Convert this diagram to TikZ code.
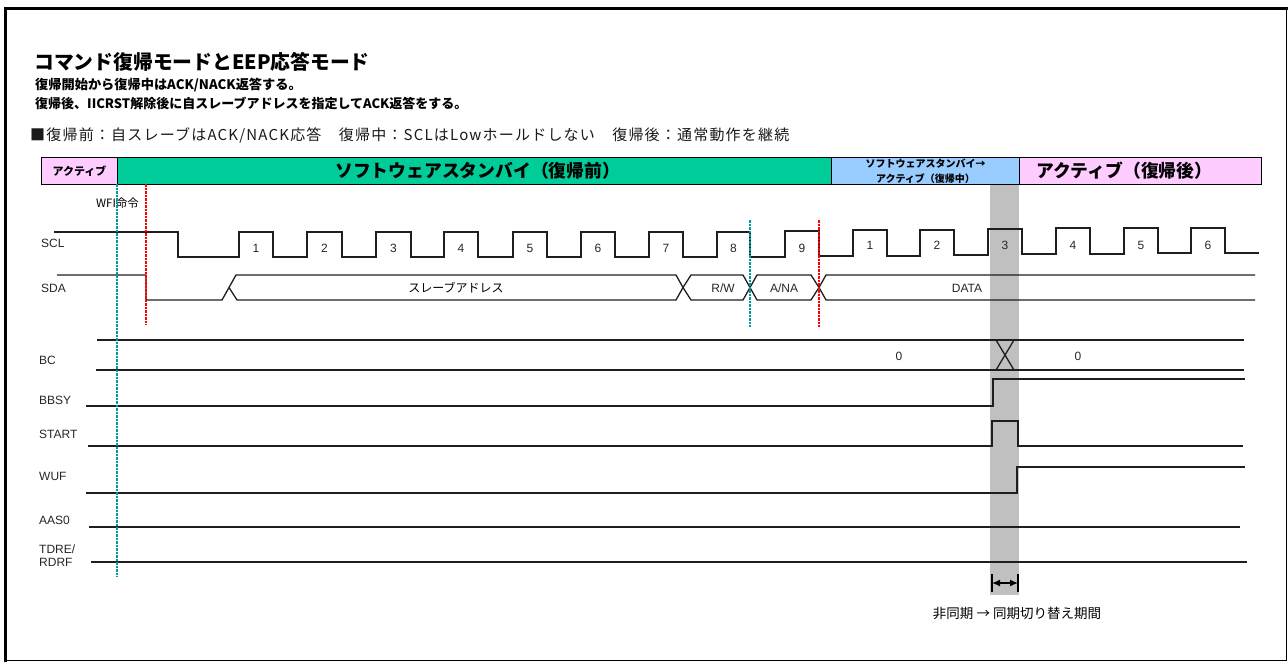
\documentclass[tikz,border=0pt]{standalone}
\usepackage{fontspec}
\setmainfont{Noto Sans CJK JP}
\newfontfamily\lat{Liberation Sans}
\usetikzlibrary{arrows.meta}

\definecolor{hdrgreen}{RGB}{0,204,153}
\definecolor{hdrblue}{RGB}{153,204,255}
\definecolor{hdrpink}{RGB}{255,204,255}
\definecolor{bandgray}{RGB}{192,192,192}
\definecolor{tealdot}{RGB}{0,155,160}
\definecolor{reddot}{RGB}{255,0,0}
\definecolor{wave}{RGB}{30,30,30}

\tikzset{
  wv/.style={draw=wave, line width=1.3pt, line join=miter},
  lbl/.style={font=\fontsize{12}{13}\selectfont\lat, anchor=west, inner sep=0pt, align=left, text=black!85},
  num/.style={font=\fontsize{12}{13}\selectfont\lat, inner sep=0pt, text=black!85},
  jtxt/.style={inner sep=0pt, anchor=west},
  hbox/.style={draw=black, line width=1pt, inner sep=0pt, anchor=north west},
  tdot/.style={draw=tealdot, line width=2.4pt, dash pattern=on 2.5pt off 1pt},
  rdot/.style={draw=reddot, line width=2.4pt, dash pattern=on 2.5pt off 1pt},
}

\begin{document}
\begin{tikzpicture}[x=1pt,y=-1pt]
\useasboundingbox (0,0) rectangle (1288,662);
% frame
\draw[line width=1pt] (1286.5,8.5) -- (1286.5,660.5) -- (5.5,660.5);
\draw[line width=3.5pt] (5.5,662) -- (5.5,8.5) -- (1288,8.5);

% headings
\node[jtxt, font=\fontsize{19.8}{21}\selectfont\bfseries] (title) at (34,62) {コマンド復帰モードとEEP応答モード};
\node[jtxt, font=\fontsize{13.2}{14}\selectfont\bfseries] (sub1) at (35,85) {復帰開始から復帰中はACK/NACK返答する。};
\node[jtxt, font=\fontsize{13}{14}\selectfont\bfseries] (sub2) at (35,103) {復帰後、IICRST解除後に自スレーブアドレスを指定してACK返答をする。};
\node[jtxt, font=\fontsize{15}{16}\selectfont, text=black!90] (legend) at (30,135) {\addfontfeature{LetterSpace=8}■復帰前：自スレーブはACK/NACK応答　復帰中：SCLはLowホールドしない　復帰後：通常動作を継続};

% gray band
\fill[bandgray] (990,184) rectangle (1019,595);

% header bar
\node[hbox, fill=hdrpink, minimum width=76pt, minimum height=27pt] (act1) at (41,157) {};
\node[hbox, fill=hdrgreen, minimum width=714pt, minimum height=27pt] (stby) at (117,157) {};
\node[hbox, fill=hdrblue, minimum width=188pt, minimum height=27pt] (trans) at (831,157) {};
\node[hbox, fill=hdrpink, minimum width=242pt, minimum height=27pt] (act2) at (1019,157) {};
\node[inner sep=0pt, font=\fontsize{11}{12}\selectfont\bfseries] (act1t) at (act1.center) {アクティブ};
\node[jtxt, font=\fontsize{17.8}{19}\selectfont\bfseries] (stbyt) at (335,170.5) {ソフトウェアスタンバイ（復帰前）};
\node[inner sep=0pt, align=center, font=\fontsize{10}{14.5}\selectfont\bfseries] (transt) at (trans.center) {ソフトウェアスタンバイ→\\アクティブ（復帰中）};
\node[jtxt, font=\fontsize{17.8}{19}\selectfont\bfseries] (act2t) at (1036,170.5) {アクティブ（復帰後）};

% WFI
\node[inner sep=0pt, font=\fontsize{11.5}{12}\selectfont] (wfi) at (117.5,203) {WFI命令};

% signal labels
\node[lbl] (lscl) at (41,243) {SCL};
\node[lbl] (lsda) at (41,288) {SDA};
\node[lbl] (lbc) at (39,360) {BC};
\node[lbl] (lbbsy) at (39,400) {BBSY};
\node[lbl] (lstart) at (39,434) {START};
\node[lbl] (lwuf) at (39,476) {WUF};
\node[lbl] (laas) at (39,520) {AAS0};
\node[lbl] (ltdre) at (39,555.5) {TDRE/\\RDRF};

% SCL
\draw[wv] (54,232) -- (178,232) -- (178,257)
  -- (239,257) -- (239,232) -- (273,232) -- (273,257)
  -- (307,257) -- (307,232) -- (342,232) -- (342,257)
  -- (376,257) -- (376,232) -- (411,232) -- (411,257)
  -- (444,257) -- (444,232) -- (478,232) -- (478,257)
  -- (513,257) -- (513,232) -- (547,232) -- (547,257)
  -- (581,257) -- (581,232) -- (615,232) -- (615,257)
  -- (649,257) -- (649,232) -- (683,232) -- (683,257)
  -- (717,257) -- (717,232) -- (750,232) -- (750,257)
  -- (785,257) -- (785,231) -- (819,231) -- (819,256)
  -- (853,256) -- (853,230) -- (887,230) -- (887,256)
  -- (920,256) -- (920,230) -- (954,230) -- (954,255)
  -- (988,255) -- (988,229) -- (1022,229) -- (1022,254)
  -- (1056,254) -- (1056,228) -- (1090,228) -- (1090,254)
  -- (1124,254) -- (1124,228) -- (1158,228) -- (1158,253)
  -- (1191,253) -- (1191,228) -- (1225,228) -- (1225,253)
  -- (1259,253);
\foreach \x/\n in {256/1,324.5/2,393.5/3,461/4,530/5,598/6,666/7,733.5/8,802/9}
  \node[num] at (\x,248) {\n};
\foreach \x/\n in {870/1,937/2,1005/3,1073/4,1141/5,1208/6}
  \node[num] at (\x,245) {\n};

% SDA
\draw[wv] (57,275) -- (146,275) -- (146,300) -- (222,300) -- (236,275)
  -- (676,275) -- (683,287.5) -- (691,275) -- (743,275) -- (750,287.5) -- (757,275)
  -- (811,275) -- (819,287.5) -- (826,275) -- (1255,275);
\draw[wv] (229,287.5) -- (237,300) -- (676,300) -- (683,287.5) -- (691,300)
  -- (743,300) -- (750,287.5) -- (757,300) -- (811,300) -- (819,287.5) -- (826,300) -- (1255,300);
\node[inner sep=0pt, font=\fontsize{12}{13}\selectfont] (sadr) at (456,288) {スレーブアドレス};
\node[num] (rw) at (723,288) {R/W};
\node[num] (ana) at (784,288) {A/NA};
\node[num] (data) at (967,288) {DATA};

% BC
\draw[wv] (97,340) -- (1244,340);
\draw[wv] (96,370) -- (1244,370);
\draw[wv] (996,340) -- (1014,370);
\draw[wv] (1014,340) -- (996,370);
\node[num] (bc0a) at (899,356) {0};
\node[num] (bc0b) at (1078,356) {0};

% BBSY
\draw[wv] (86,406) -- (993,406) -- (993,379) -- (1245,379);
% START
\draw[wv] (88,446) -- (992,446) -- (992,421) -- (1018,421) -- (1018,446) -- (1243,446);
% WUF
\draw[wv] (86,493) -- (1017,493) -- (1017,467) -- (1245,467);
% AAS0
\draw[wv] (89,527) -- (1240,527);
% TDRE/RDRF
\draw[wv] (91,562) -- (1247,562);

% dotted markers
\draw[tdot] (117,184) -- (117,577);
\draw[rdot] (146,184) -- (146,325);
\draw[tdot] (750,220) -- (750,327);
\draw[rdot] (819,220) -- (819,327);

% sync period arrow
\coordinate (pa) at (992,583);
\coordinate (pb) at (1018,583);
\draw[line width=1.5pt] (992,574) -- (992,592);
\draw[line width=1.5pt] (1018,574) -- (1018,592);
\draw[line width=1.4pt, {Latex[length=8pt,width=7pt]}-{Latex[length=8pt,width=7pt]}] (pa) -- (pb);
\node[inner sep=0pt, font=\fontsize{13.5}{14}\selectfont] (synct) at (1017,613) {非同期 → 同期切り替え期間};
\end{tikzpicture}
\end{document}
